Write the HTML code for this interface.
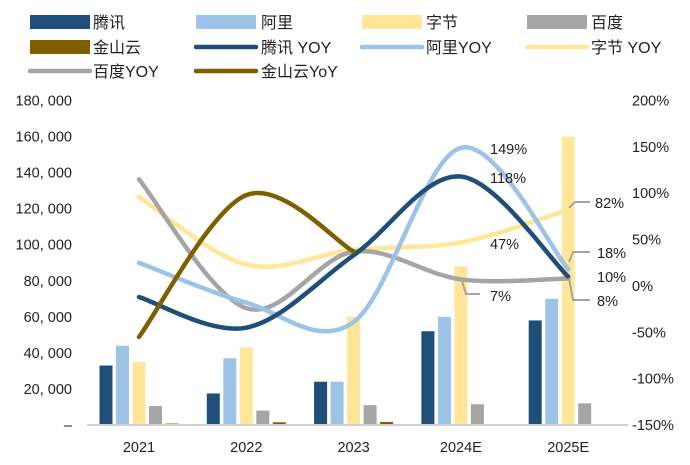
<!DOCTYPE html>
<html><head><meta charset="utf-8"><style>
html,body{margin:0;padding:0;background:#fff;}
svg{display:block;font-family:"Liberation Sans","Noto Sans CJK SC",sans-serif;}
</style></head><body>
<svg id="chart" width="690" height="465" viewBox="0 0 690 465"></svg>
<script>
const categories=["2021","2022","2023","2024E","2025E"];
const tencent=[33000,17500,24000,52000,58000];
const ali=[44000,37000,24000,60000,70000];
const bytedance=[35000,43000,60000,88000,160000];
const baidu=[10500,8000,11000,11500,12000];
const kingsoft=[800,1500,1700,null,null];
const tencentYoy=[-12,-45,33,118,10];
const aliYoy=[25,-18,-39,149,18];
const byteYoy=[96,23,39,47,82];
const baiduYoy=[115,-24,37,7,8];
const kingsoftYoy=[-55,98,37,null,null];
const leftTicks=[0,20000,40000,60000,80000,100000,120000,140000,160000,180000];
const rightTicks=[-150,-100,-50,0,50,100,150,200];

const NS="http://www.w3.org/2000/svg";
const svg=document.getElementById("chart");
function mk(tag,attrs,parent){const e=document.createElementNS(NS,tag);for(const k in attrs)e.setAttribute(k,attrs[k]);(parent||svg).appendChild(e);return e;}
const C={t:"#1f4e79",a:"#9dc3e6",b:"#ffe699",d:"#a5a5a5",k:"#7f6000"};
const x0=139,step=107.3,yTop=100.5,yBot=425;
const xC=i=>x0+i*step;
const yL=v=>yBot-(v/180000)*(yBot-yTop);
const yR=v=>yBot-((v+150)/350)*(yBot-yTop);

// axes labels
leftTicks.forEach(v=>{
  const t=mk("text",{x:72,y:yL(v)+5,"text-anchor":"end","font-size":"14.5",fill:"#222"});
  
  
  t.textContent=v===0?"–":v.toLocaleString("en-US").replace(",",", ");
});
rightTicks.forEach(v=>{
  const t=mk("text",{x:632,y:yR(v)+5,"text-anchor":"start","font-size":"14.5",fill:"#222"});
  
  
  t.textContent=v+"%";
});
categories.forEach((c,i)=>{
  const t=mk("text",{x:xC(i),y:452,"text-anchor":"middle","font-size":"14.5",fill:"#222"});
  
  
  t.textContent=c;
});

// bars
const barSeries=[[tencent,C.t,"tencent"],[ali,C.a,"ali"],[bytedance,C.b,"bytedance"],[baidu,C.d,"baidu"],[kingsoft,C.k,"kingsoft"]];
const bw=13,bs=16.5;
barSeries.forEach((s,j)=>{
  s[0].forEach((v,i)=>{
    if(v==null)return;
    const x=xC(i)+(j-2)*bs-bw/2;
    const r=mk("rect",{x:x,y:yL(v),width:bw,height:yBot-yL(v),fill:s[1]});
    
    
  });
});
const ax=mk("line",{x1:87,y1:yBot,x2:628,y2:yBot,stroke:"#d0d0d0","stroke-width":2});



// lines
function smoothPath(vals){
  const pts=[];vals.forEach((v,i)=>{if(v!=null)pts.push([xC(i),yR(v)]);});
  let d="M"+pts[0][0]+","+pts[0][1];
  for(let i=0;i<pts.length-1;i++){
    const p0=pts[i-1]||pts[i],p1=pts[i],p2=pts[i+1],p3=pts[i+2]||p2;
    const c1=[p1[0]+(p2[0]-p0[0])/6,p1[1]+(p2[1]-p0[1])/6];
    const c2=[p2[0]-(p3[0]-p1[0])/6,p2[1]-(p3[1]-p1[1])/6];
    d+=" C"+c1+" "+c2+" "+p2;
  }
  return d;
}
const lineSeries=[[byteYoy,C.b,"bytedance-yoy"],[baiduYoy,C.d,"baidu-yoy"],[aliYoy,C.a,"ali-yoy"],[tencentYoy,C.t,"tencent-yoy"],[kingsoftYoy,C.k,"kingsoft-yoy"]];
lineSeries.forEach(s=>{
  const p=mk("path",{d:smoothPath(s[0]),fill:"none",stroke:s[1],"stroke-width":4.5,"stroke-linecap":"round"});
  
  
});

// data labels with leaders
const leaders=[
 "M569,208 L575,202 L590,202","M569,262 L573,252 L590,252","M569,278 L573,300 L590,300","M462,281 L466,294 L480,294"
];
leaders.forEach(d=>{const p=mk("path",{d:d,fill:"none",stroke:"#a5a5a5","stroke-width":2});
 
 });
const labels=[["149%",490,154],["118%",490,183],["47%",490,249],["7%",490,301],["82%",595,208],["18%",597,258],["10%",597,282],["8%",597,306]];
labels.forEach(l=>{const t=mk("text",{x:l[1],y:l[2],"font-size":"14.5",fill:"#222"});
 
 
 t.textContent=l[0];});

// legend
const legend=[
 ["rect",C.t,30,22,"腾讯",95],["rect",C.a,196,22,"阿里",263],["rect",C.b,362,22,"字节",428],["rect",C.d,527,22,"百度",593],
 ["rect",C.k,30,47,"金山云",95],["line",C.t,196,47,"腾讯 YOY",263],["line",C.a,362,47,"阿里YOY",428],["line",C.b,527,47,"字节 YOY",593],
 ["line",C.d,30,71,"百度YOY",95],["line",C.k,196,71,"金山云YoY",263]
];
legend.forEach(l=>{
  const g=mk("g",{});
  
  
  if(l[0]==="rect")mk("rect",{x:l[2],y:l[3]-7,width:60,height:14,fill:l[1]},g);
  else mk("line",{x1:l[2],y1:l[3],x2:l[2]+60,y2:l[3],stroke:l[1],"stroke-width":4.5,"stroke-linecap":"round"},g);
  const t=mk("text",{x:l[5]-2,y:l[3]+6,"font-size":"16",fill:"#222"},g);
  t.textContent=l[4];
});
</script>
</body></html>
